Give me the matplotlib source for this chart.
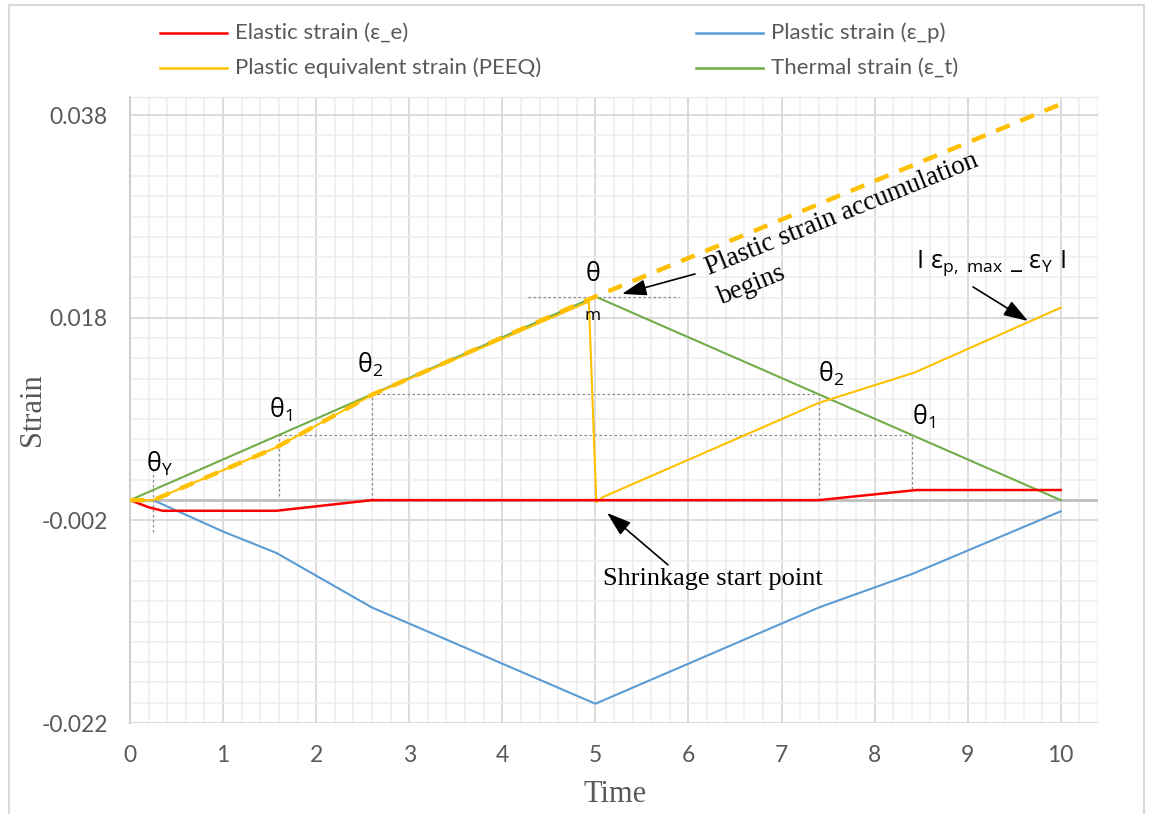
import numpy as np
import matplotlib
matplotlib.use("Agg")
import matplotlib.pyplot as plt
from matplotlib.lines import Line2D
from matplotlib.ticker import FixedLocator, FixedFormatter

plt.rcParams['mathtext.fontset'] = 'custom'
plt.rcParams['mathtext.rm'] = 'Open Sans'
plt.rcParams['mathtext.it'] = 'Open Sans'

# ---------------- data ----------------
time_thermal = [0, 5.0, 10]
thermal = [0, 0.0201, 0]

time_elastic = [0, 0.2, 0.35, 1.57, 2.6, 7.4, 8.45, 10]
elastic = [0, -0.0007, -0.00105, -0.00105, 0, 0, 0.001, 0.001]

time_plastic = [0, 0.25, 1.0, 1.57, 2.6, 5.0, 7.4, 8.4, 10]
plastic = [0, 0, -0.0031, -0.0052, -0.0106, -0.0201, -0.0106, -0.0073, -0.0011]

time_peeq = [0, 0.25, 1.57, 2.6, 4.93, 5.01, 5.08, 7.4, 8.43, 10]
peeq = [0, 0, 0.0052, 0.0104, 0.0196, -0.0002, 0.0003, 0.0096, 0.0126, 0.019]

time_accum = [0, 0.25, 1.57, 2.6, 5.0, 10]
accum = [0, 0, 0.0052, 0.0104, 0.0201, 0.0391]

theta_y_time = 0.25
theta1_times = [1.6, 8.4]
theta2_times = [2.6, 7.4]
peak_guide_span = [4.28, 5.9]

series_labels = ["Elastic strain (ε_e)", "Plastic strain (ε_p)",
                 "Plastic equivalent strain (PEEQ)", "Thermal strain (ε_t)"]
series_colors = ["#FF0000", "#5B9BD5", "#FFC000", "#70AD47"]

xticks = list(range(0, 11))
yticks = [-0.022, -0.002, 0.018, 0.038]
ytick_labels = ["-0.022", "-0.002", "0.018", "0.038"]

W, H = 1157, 814
fig = plt.figure(figsize=(W / 100, H / 100), dpi=100)
ax = fig.add_axes([130 / W, 1 - 723 / H, (1098 - 130) / W, (723 - 97) / H])
ax.set_xlim(0, 10.4)
ax.set_ylim(-0.022, 0.0398)

# grid
ax.xaxis.set_major_locator(FixedLocator(xticks))
ax.xaxis.set_minor_locator(FixedLocator(np.round(np.arange(0, 10.41, 0.2), 2)))
ax.yaxis.set_major_locator(FixedLocator(yticks))
ax.yaxis.set_minor_locator(FixedLocator(np.round(np.arange(-0.022, 0.0399, 0.002), 4)))
ax.yaxis.set_major_formatter(FixedFormatter(ytick_labels))
ax.grid(which='major', color='#D9D9D9', lw=1.3, zorder=0)
ax.grid(which='minor', color='#EDEDED', lw=1.1, zorder=0)
ax.set_axisbelow(True)
ax.tick_params(which='both', length=0)
ax.tick_params(axis='y', pad=16, labelsize=16.5, labelcolor='#595959')
ax.tick_params(axis='x', pad=16, labelsize=16.5, labelcolor='#595959')
for lab in ax.get_xticklabels() + ax.get_yticklabels():
    lab.set_fontfamily('Lato')
for s in ['bottom', 'right']:
    ax.spines[s].set_visible(False)
ax.spines['top'].set_color('#E6E6E6')
ax.spines['left'].set_color('#D0D0D0')
ax.spines['left'].set_linewidth(1.5)
ax.axhline(0, color='#BFBFBF', lw=2.0, zorder=1)

# series
ax.plot(time_thermal, thermal, color=series_colors[3], lw=1.5, zorder=3)
ax.plot(time_plastic, plastic, color=series_colors[1], lw=1.5, zorder=3)
ax.plot(time_peeq, peeq, color=series_colors[2], lw=1.5, zorder=3)
ax.plot(time_elastic, elastic, color=series_colors[0], lw=1.8, zorder=4)
ax.plot(time_accum, accum, color=series_colors[2], lw=3.2, ls=(0, (3.3, 2.6)), zorder=5)

# guide lines
gkw = dict(color='#8C8C8C', lw=0.9, ls=(0, (2, 2)), zorder=2)
th1 = np.interp(theta1_times[0], time_thermal, thermal)
th2 = np.interp(theta2_times[0], time_thermal, thermal)
ax.plot(theta1_times, [th1, th1], **gkw)
ax.plot(theta2_times, [th2, th2], **gkw)
ax.plot([theta1_times[0]] * 2, [0.0004, th1], **gkw)
ax.plot([theta1_times[1]] * 2, [0.0011, th1], **gkw)
ax.plot([theta2_times[0]] * 2, [0, th2], **gkw)
ax.plot([theta2_times[1]] * 2, [0, th2], **gkw)
ax.plot(peak_guide_span, [max(thermal)] * 2, **gkw)
ax.plot([theta_y_time] * 2, [-0.0031, 0.0031], **gkw)

# theta labels
tk = dict(fontsize=18, color='black', ha='left', va='baseline', zorder=6)
ax.text(0.17, 0.0028, r'$\mathrm{θ_{Y}}$', **tk)
ax.text(1.49, 0.0081, r'$\mathrm{θ_{1}}$', **tk)
ax.text(2.44, 0.0126, r'$\mathrm{θ_{2}}$', **tk)
ax.text(7.39, 0.0117, r'$\mathrm{θ_{2}}$', **tk)
ax.text(8.40, 0.0074, r'$\mathrm{θ_{1}}$', **tk)
ax.text(4.97, 0.0216, 'θ', fontsize=18, ha='center', va='baseline', fontfamily='Open Sans')
ax.text(4.97, 0.0178, 'm', fontsize=12.5, ha='center', va='baseline', fontfamily='Open Sans')
ax.text(8.45, 0.0229, r'$\mathrm{I\ ε_{p,\ max}\ \_\ ε_{Y}\ I}$', **tk)

# annotations
akw = dict(arrowstyle='-|>,head_length=0.6,head_width=0.2', color='black', lw=1.2,
           mutation_scale=25, shrinkA=0, shrinkB=0)
ax.annotate('', xy=(5.286, 0.02036), xytext=(6.07, 0.02233), arrowprops=akw, zorder=7)
ax.annotate('', xy=(5.125, -0.00126), xytext=(5.78, -0.00639), arrowprops=akw, zorder=7)
ax.annotate('', xy=(9.648, 0.01769), xytext=(9.057, 0.02105), arrowprops=akw, zorder=7)

ax.text(6.22, 0.0222, 'Plastic strain accumulation', fontfamily='Liberation Serif',
        fontsize=19.5, rotation=22, rotation_mode='anchor', ha='left', va='baseline')
ax.text(6.36, 0.0193, 'begins', fontfamily='Liberation Serif',
        fontsize=19.5, rotation=22, rotation_mode='anchor', ha='left', va='baseline')
ax.text(5.08, -0.0084, 'Shrinkage start point', fontfamily='Liberation Serif',
        fontsize=19, ha='left', va='baseline')

# axis labels
ax.set_ylabel('Strain', fontfamily='Liberation Serif', fontsize=22, color='#595959')
ax.yaxis.label.set_va('center')
ax.yaxis.set_label_coords((33 - 130) / 968, (723 - 410) / 626)
ax.set_xlabel('Time', fontfamily='Liberation Serif', fontsize=22, color='#595959')
ax.xaxis.label.set_va('center')
ax.xaxis.set_label_coords((615 - 130) / 968, (723 - 795) / 626)

# legend (manual)
legend_pos = [(160, 33), (696, 33), (160, 68), (696, 68)]
for (px, py), lab, col in zip(legend_pos, series_labels, series_colors):
    fig.add_artist(Line2D([px / W, (px + 67) / W], [1 - py / H, 1 - py / H],
                          color=col, lw=1.8, transform=fig.transFigure))
    fig.text((px + 75) / W, 1 - py / H, lab, fontsize=16, color='#595959',
             family=['Lato', 'DejaVu Sans'], ha='left', va='center')

# chart border
for xs, ys in [([9, 9], [5, 814]), ([9, 1144], [5, 5]), ([1144, 1144], [5, 814])]:
    fig.add_artist(Line2D([x / W for x in xs], [1 - y / H for y in ys],
                          color='#D9D9D9', lw=1.5, transform=fig.transFigure))

fig.savefig('out.png', dpi=100)
